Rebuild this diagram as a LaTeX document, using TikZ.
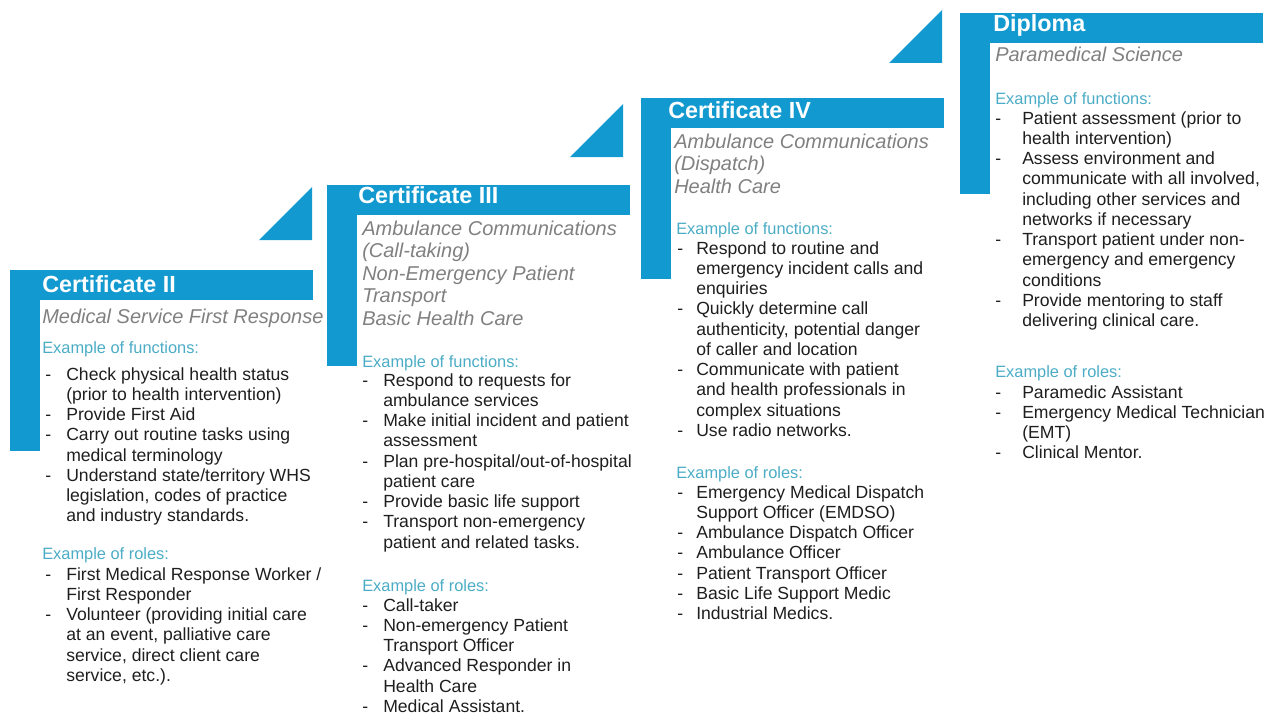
\documentclass[tikz,border=0pt]{standalone}
\usepackage{fontspec}
\setmainfont{Liberation Sans}
\usepackage{tikz}
\definecolor{stepblue}{HTML}{129AD0}
\definecolor{headteal}{HTML}{4BACC6}
\definecolor{subgray}{HTML}{808080}
\definecolor{bodyink}{HTML}{1E1E1E}
\tikzset{
  StepFill/.style={fill=stepblue, draw=none},
  hang gap/.store in=\ListDashGap, hang gap=11.3pt,
  StepTitle/.style={anchor=base west, inner sep=0pt, text=white,
    font=\fontsize{17.5}{20}\selectfont\bfseries},
  StepSub/.style={anchor=base west, inner sep=0pt, text=subgray,
    font=\fontsize{15}{16.9}\selectfont\itshape},
  ListHead/.style={anchor=base west, inner sep=0pt, text=headteal,
    font=\fontsize{12.3}{14}\selectfont},
  ListBody/.style={anchor=base west, inner sep=0pt, text=bodyink,
    font=\fontsize{13.2}{15.2}\selectfont}
}
% lines stacked from the first baseline down
\newenvironment{Lines}{\begin{tabular}[t]{@{}l@{}}}{\end{tabular}}
\newcommand{\ListDash}{\llap{-\hspace{\ListDashGap}}}
\newcommand{\StepFrame}[1]{%
  % #1 = top-left corner of the title bar
  \fill[StepFill] (#1) rectangle ++(303,30);
  \fill[StepFill] (#1) rectangle ++(30,181);
}
\newcommand{\StepWedge}[1]{%
  % #1 = right-angle corner (bottom right) of the wedge
  \fill[StepFill] (#1) -- ++(-53,0) -- ++(53,-53) -- cycle;
}

\begin{document}
\begin{tikzpicture}[x=0.75pt, y=-0.75pt]
  \useasboundingbox (0,0) rectangle (1279,717);

  \coordinate (S2) at (10,270);
  \coordinate (S3) at (327,185);
  \coordinate (S4) at (641,98);
  \coordinate (S5) at (960,13);
  \coordinate (W2) at (312,240);
  \coordinate (W3) at (623,157);
  \coordinate (W4) at (942,63);

  \StepFrame{S2}
  \StepFrame{S3}
  \StepFrame{S4}
  \StepFrame{S5}
  \StepWedge{W2}
  \StepWedge{W3}
  \StepWedge{W4}

  % Certificate II
  \node[StepTitle] (c2title) at (42,292) {Certificate II};
  \node[StepSub] (c2sub) at (42,323) {Medical Service First Response};
  \node[ListHead] (c2fhead) at (42,353) {Example of functions:};
  \node[ListBody] (c2flist) at (66,380) {\begin{Lines}
    \ListDash Check physical health status\\
    (prior to health intervention)\\
    \ListDash Provide First Aid\\
    \ListDash Carry out routine tasks using\\
    medical terminology\\
    \ListDash Understand state/territory WHS\\
    legislation, codes of practice\\
    and industry standards.
  \end{Lines}};
  \node[ListHead] (c2rhead) at (42,559) {Example of roles:};
  \node[ListBody] (c2rlist) at (66,580) {\begin{Lines}
    \ListDash First Medical Response Worker /\\
    First Responder\\
    \ListDash Volunteer (providing initial care\\
    at an event, palliative care\\
    service, direct client care\\
    service, etc.).
  \end{Lines}};

  % Certificate III
  \node[StepTitle] (c3title) at (358,203) {Certificate III};
  \node[StepSub] (c3sub) at (362,235) {\begin{Lines}
    Ambulance Communications\\
    (Call-taking)\\
    Non-Emergency Patient\\
    Transport\\
    Basic Health Care
  \end{Lines}};
  \node[ListHead] (c3fhead) at (362,367) {Example of functions:};
  \node[ListBody] (c3flist) at (383,386) {\begin{Lines}
    \ListDash Respond to requests for\\
    ambulance services\\
    \ListDash Make initial incident and patient\\
    assessment\\
    \ListDash Plan pre-hospital/out-of-hospital\\
    patient care\\
    \ListDash Provide basic life support\\
    \ListDash Transport non-emergency\\
    patient and related tasks.
  \end{Lines}};
  \node[ListHead] (c3rhead) at (362,591) {Example of roles:};
  \node[ListBody] (c3rlist) at (383,611) {\begin{Lines}
    \ListDash Call-taker\\
    \ListDash Non-emergency Patient\\
    Transport Officer\\
    \ListDash Advanced Responder in\\
    Health Care\\
    \ListDash Medical Assistant.
  \end{Lines}};

  % Certificate IV
  \node[StepTitle] (c4title) at (668,118) {Certificate IV};
  \node[StepSub] (c4sub) at (674,148) {\begin{Lines}
    Ambulance Communications\\
    (Dispatch)\\
    Health Care
  \end{Lines}};
  \node[ListHead] (c4fhead) at (676,234) {Example of functions:};
  \node[ListBody, hang gap=9.8pt] (c4flist) at (696,254) {\begin{Lines}
    \ListDash Respond to routine and\\
    emergency incident calls and\\
    enquiries\\
    \ListDash Quickly determine call\\
    authenticity, potential danger\\
    of caller and location\\
    \ListDash Communicate with patient\\
    and health professionals in\\
    complex situations\\
    \ListDash Use radio networks.
  \end{Lines}};
  \node[ListHead] (c4rhead) at (676,478) {Example of roles:};
  \node[ListBody, hang gap=9.8pt] (c4rlist) at (696,498) {\begin{Lines}
    \ListDash Emergency Medical Dispatch\\
    Support Officer (EMDSO)\\
    \ListDash Ambulance Dispatch Officer\\
    \ListDash Ambulance Officer\\
    \ListDash Patient Transport Officer\\
    \ListDash Basic Life Support Medic\\
    \ListDash Industrial Medics.
  \end{Lines}};

  % Diploma
  \node[StepTitle] (dptitle) at (993,32) {Diploma};
  \node[StepSub] (dpsub) at (995,62) {Paramedical Science};
  \node[ListHead] (dpfhead) at (995,104) {Example of functions:};
  \node[ListBody, hang gap=15.8pt] (dpflist) at (1022,124) {\begin{Lines}
    \ListDash Patient assessment (prior to\\
    health intervention)\\
    \ListDash Assess environment and\\
    communicate with all involved,\\
    including other services and\\
    networks if necessary\\
    \ListDash Transport patient under non-\\
    emergency and emergency\\
    conditions\\
    \ListDash Provide mentoring to staff\\
    delivering clinical care.
  \end{Lines}};
  \node[ListHead] (dprhead) at (995,377) {Example of roles:};
  \node[ListBody, hang gap=15.8pt] (dprlist) at (1022,398) {\begin{Lines}
    \ListDash Paramedic Assistant\\
    \ListDash Emergency Medical Technician\\
    (EMT)\\
    \ListDash Clinical Mentor.
  \end{Lines}};
\end{tikzpicture}
\end{document}
